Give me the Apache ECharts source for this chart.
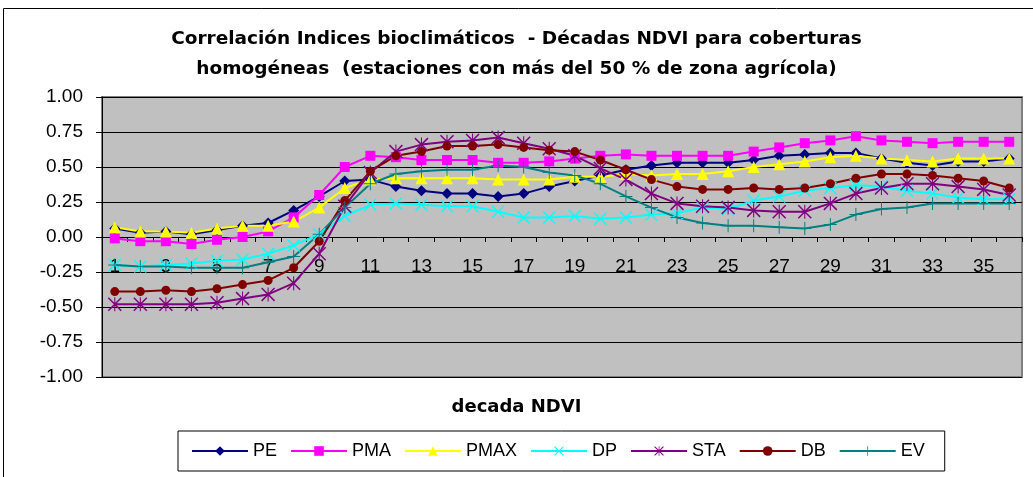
<!DOCTYPE html>
<html>
<head>
<meta charset="utf-8">
<title>Correlación Indices bioclimáticos</title>
<script src="https://cdn.jsdelivr.net/npm/echarts@6/dist/echarts.min.js"></script>
<style>
    html, body { margin: 0; padding: 0; background: #fff; }
    .chart { width: 1033px; height: 477px; }
</style>
</head>
<body>
<div class="line"><div class="chart"></div></div>
<script>
// data
var decadas = [];
for (var d = 1; d <= 36; d++) decadas.push(String(d));
var yTicks = [-1, -0.75, -0.5, -0.25, 0, 0.25, 0.5, 0.75, 1];
var PE = [0.06, 0.03, 0.04, 0.02, 0.05, 0.08, 0.10, 0.19, 0.29, 0.40, 0.41, 0.36, 0.33, 0.31, 0.31, 0.29, 0.31, 0.36, 0.40, 0.44, 0.48, 0.51, 0.53, 0.53, 0.53, 0.55, 0.58, 0.59, 0.60, 0.60, 0.56, 0.53, 0.51, 0.54, 0.54, 0.56];
var PMA = [-0.01, -0.03, -0.03, -0.05, -0.02, 0.00, 0.04, 0.14, 0.30, 0.50, 0.58, 0.57, 0.55, 0.55, 0.55, 0.53, 0.53, 0.54, 0.56, 0.58, 0.59, 0.58, 0.58, 0.58, 0.58, 0.61, 0.64, 0.67, 0.69, 0.72, 0.69, 0.68, 0.67, 0.68, 0.68, 0.68];
var PMAX = [0.07, 0.04, 0.04, 0.03, 0.06, 0.08, 0.08, 0.11, 0.21, 0.35, 0.41, 0.42, 0.42, 0.42, 0.42, 0.41, 0.41, 0.41, 0.43, 0.43, 0.45, 0.44, 0.45, 0.45, 0.47, 0.50, 0.52, 0.54, 0.57, 0.58, 0.56, 0.55, 0.54, 0.56, 0.56, 0.56];
var DP = [-0.20, -0.21, -0.20, -0.19, -0.17, -0.16, -0.12, -0.06, 0.02, 0.15, 0.23, 0.24, 0.23, 0.22, 0.22, 0.18, 0.14, 0.14, 0.15, 0.13, 0.14, 0.16, 0.17, 0.21, 0.20, 0.26, 0.29, 0.33, 0.35, 0.37, 0.36, 0.33, 0.31, 0.28, 0.27, 0.27];
var STA = [-0.48, -0.48, -0.48, -0.48, -0.47, -0.44, -0.41, -0.33, -0.12, 0.22, 0.46, 0.61, 0.66, 0.68, 0.69, 0.71, 0.67, 0.63, 0.58, 0.49, 0.41, 0.31, 0.24, 0.22, 0.21, 0.19, 0.18, 0.18, 0.24, 0.31, 0.35, 0.38, 0.38, 0.36, 0.34, 0.30];
var DB = [-0.39, -0.39, -0.38, -0.39, -0.37, -0.34, -0.31, -0.22, -0.03, 0.26, 0.47, 0.58, 0.61, 0.65, 0.65, 0.66, 0.64, 0.62, 0.61, 0.55, 0.48, 0.41, 0.36, 0.34, 0.34, 0.35, 0.34, 0.35, 0.38, 0.42, 0.45, 0.45, 0.44, 0.42, 0.40, 0.35];
var EV = [-0.20, -0.21, -0.21, -0.22, -0.22, -0.22, -0.18, -0.14, 0.02, 0.21, 0.38, 0.45, 0.47, 0.48, 0.48, 0.51, 0.50, 0.46, 0.44, 0.38, 0.29, 0.21, 0.14, 0.10, 0.08, 0.08, 0.07, 0.06, 0.09, 0.16, 0.20, 0.21, 0.24, 0.24, 0.24, 0.24];

(function () {
    var myChart = echarts.init(document.querySelector('.line .chart'));
    var font = 'Liberation Sans';
    // thin filled shapes for the stroke-only markers
    var xPath = 'path://M0,1.5L1.5,0L20,18.5L18.5,20ZM18.5,0L20,1.5L1.5,20L0,18.5Z';
    var starPath = xPath + 'M9.25,0L10.75,0L10.75,20L9.25,20Z';
    var plusPath = 'path://M9.25,0L10.75,0L10.75,20L9.25,20ZM0,9.25L20,9.25L20,10.75L0,10.75Z';

    function serie(name, data, color, symbol, size) {
        return {
            name: name,
            type: 'line',
            data: data,
            symbol: symbol,
            symbolSize: size,
            showAllSymbol: true,
            animation: false,
            itemStyle: { color: color },
            lineStyle: { color: color, width: 2 }
        };
    }

    var option = {
        title: {
            text: 'Correlación Indices bioclimáticos  - Décadas NDVI para coberturas\nhomogéneas  (estaciones con más del 50 % de zona agrícola)',
            left: 'center',
            top: 19,
            textStyle: {
                fontFamily: 'DejaVu Sans',
                fontSize: 18.5,
                fontWeight: 'bold',
                color: '#000',
                lineHeight: 30
            }
        },
        // outer chart frame + x axis title
        graphic: [{
            type: 'rect',
            shape: { x: 3.5, y: 8.5, width: 1040, height: 480 },
            style: { fill: 'none', stroke: '#000', lineWidth: 1 },
            z: -1
        }, {
            type: 'text',
            left: 'center',
            top: 398,
            style: {
                text: 'decada NDVI',
                font: 'bold 18px "DejaVu Sans"',
                fill: '#000'
            }
        }],
        legend: {
            left: 178,
            top: 431,
            padding: [11, 20, 11, 13],
            itemGap: 13,
            itemWidth: 56,
            itemHeight: 12,
            backgroundColor: '#fff',
            borderColor: '#000',
            borderWidth: 1,
            textStyle: { fontFamily: font, fontSize: 18, color: '#000' },
            data: ['PE', 'PMA', 'PMAX', 'DP', 'STA', 'DB', 'EV']
        },
        grid: {
            left: 102,
            right: 11,
            top: 97,
            bottom: 100,
            show: true,
            backgroundColor: '#C0C0C0',
            borderColor: '#808080',
            borderWidth: 2
        },
        xAxis: {
            type: 'category',
            data: decadas,
            boundaryGap: true,
            position: 'bottom',
            // axis sits on the 0.00 line (140px above the grid bottom)
            offset: -140,
            axisLine: { onZero: false, lineStyle: { color: '#000', width: 1 } },
            axisTick: { show: true, interval: 0, length: 5, lineStyle: { color: '#000' } },
            axisLabel: { interval: 1, margin: 20, color: '#000', fontFamily: font, fontSize: 19 },
            splitLine: { show: false }
        },
        yAxis: {
            type: 'value',
            min: yTicks[0],
            max: yTicks[yTicks.length - 1],
            interval: 0.25,
            axisLine: { show: true, lineStyle: { color: '#000', width: 1 } },
            axisTick: { show: true, length: 6, lineStyle: { color: '#000' } },
            axisLabel: {
                margin: 19,
                color: '#000',
                fontFamily: font,
                fontSize: 19,
                formatter: function (v) { return v.toFixed(2); }
            },
            splitLine: { lineStyle: { color: '#000', width: 1 } }
        },
        series: [
            serie('PE', PE, '#000080', 'diamond', 11),
            serie('PMA', PMA, '#FF00FF', 'rect', 10),
            serie('PMAX', PMAX, '#FFFF00', 'triangle', 12),
            serie('DP', DP, '#00FFFF', xPath, 13),
            serie('STA', STA, '#800080', starPath, 14),
            serie('DB', DB, '#800000', 'circle', 9),
            serie('EV', EV, '#008080', plusPath, 13)
        ]
    };
    myChart.setOption(option);
    window.addEventListener('resize', function () {
        myChart.resize();
    });
})();
</script>
</body>
</html>
